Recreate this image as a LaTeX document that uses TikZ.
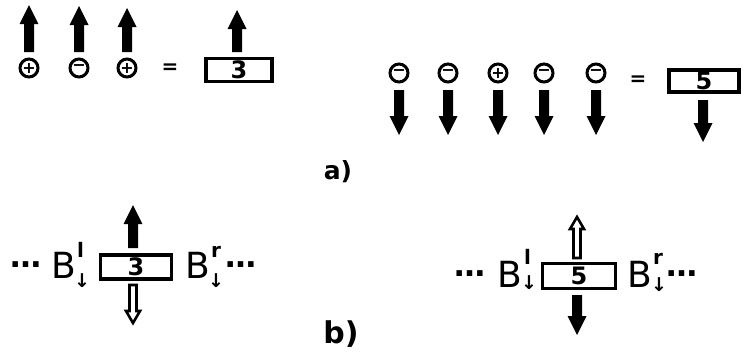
\documentclass[tikz,border=0pt]{standalone}
\usepackage{fontspec}
\setmainfont{DejaVu Sans}
\begin{document}
\begin{tikzpicture}[x=1pt,y=-1pt,
 sign/.style={circle,draw,line width=3pt,minimum size=18pt,inner sep=0pt,font=\fontsize{16}{16}\selectfont\bfseries},
 valbox/.style={rectangle,draw,line width=3.2pt,inner sep=0pt,font=\fontsize{24}{24}\selectfont\bfseries},
 eqs/.style={font=\fontsize{20}{20}\selectfont\bfseries,inner sep=0pt},
 bigB/.style={font=\fontsize{36}{36}\selectfont,inner sep=0pt,anchor=base west},
 supl/.style={font=\fontsize{20}{20}\selectfont\bfseries,inner sep=0pt,anchor=base west},
 subarr/.style={font=\fontsize{19}{19}\selectfont\bfseries,inner sep=0pt},
 dots/.style={font=\fontsize{31}{31}\selectfont\bfseries,inner sep=0pt,anchor=base west},
 lab/.style={inner sep=0pt},
 pics/uparr/.style={code={\fill (0,0) -- (-9.5,19) -- (-5,19) -- (-5,#1) -- (5,#1) -- (5,19) -- (9.5,19) -- cycle;}},
 pics/downarr/.style={code={\fill (0,0) -- (-9.5,-19) -- (-5,-19) -- (-5,-#1) -- (5,-#1) -- (5,-19) -- (9.5,-19) -- cycle;}},
 pics/hupar/.style={code={\draw[line width=2.6pt,fill=white,line join=miter] (0,0) -- (-7,12) -- (-3.5,12) -- (-3.5,#1) -- (3.5,#1) -- (3.5,12) -- (7,12) -- cycle;}},
 pics/hdownar/.style={code={\draw[line width=2.6pt,fill=white,line join=miter] (0,0) -- (-7,-12) -- (-3.5,-12) -- (-3.5,-#1) -- (3.5,-#1) -- (3.5,-12) -- (7,-12) -- cycle;}}
]
\useasboundingbox[fill=white] (0,0) rectangle (750,351);

% ---- a) left
\node[sign] (c1) at (29,68) {+};
\node[sign] (c2) at (79,68) {−};
\node[sign] (c3) at (127,68) {+};
\pic at (29,5) {uparr=47};
\pic at (79,6) {uparr=46};
\pic at (127,8) {uparr=44};
\node[eqs] (eq1) at (170,69) {=};
\node[valbox,minimum width=66pt,minimum height=23pt] (box1) at (239,70) {3};
\pic at (237,10) {uparr=42};

% ---- a) right
\node[sign] (d1) at (399,73) {−};
\node[sign] (d2) at (448,73) {−};
\node[sign] (d3) at (498,73) {+};
\node[sign] (d4) at (544,73) {−};
\node[sign] (d5) at (596,73) {−};
\pic at (399,135) {downarr=45};
\pic at (448,135) {downarr=45};
\pic at (498,135) {downarr=45};
\pic at (544,135) {downarr=45};
\pic at (596,135) {downarr=45};
\node[eqs] (eq2) at (638,81) {=};
\node[valbox,minimum width=70pt,minimum height=22pt] (box2) at (704,81) {5};
\pic at (703,142) {downarr=42};

\node[lab,font=\fontsize{25}{25}\selectfont\bfseries] (la) at (338,172) {a)};

% ---- b) left
\node[dots] (dl1) at (10,267) {…};
\node[bigB] (Bl1) at (51,278) {B};
\node[supl] (sl1) at (77,257) {l};
\node[subarr] (al1) at (82,281) {↓};
\node[valbox,minimum width=71pt,minimum height=24pt] (box3) at (136,267) {3};
\pic at (133,205) {uparr=43};
\pic at (133,323) {hdownar=38};
\node[bigB] (Br1) at (185,278) {B};
\node[supl] (sr1) at (211,257) {r};
\node[subarr] (ar1) at (216,281) {↓};
\node[dots] (dr1) at (225,267) {…};

% ---- b) right
\node[dots] (dl2) at (454,276) {…};
\node[bigB] (Bl2) at (497,287) {B};
\node[supl] (sl2) at (524,264) {l};
\node[subarr] (al2) at (529,283) {↓};
\node[valbox,minimum width=73pt,minimum height=25pt] (box4) at (579,276) {5};
\pic at (577,217) {hupar=41};
\pic at (577,335) {downarr=40};
\node[bigB] (Br2) at (627,287) {B};
\node[supl] (sr2) at (653,264) {r};
\node[subarr] (ar2) at (659,285) {↓};
\node[dots] (dr2) at (666,276) {…};

\node[lab,font=\fontsize{30}{30}\selectfont\bfseries] (lb) at (341,334) {b)};
\end{tikzpicture}
\end{document}
